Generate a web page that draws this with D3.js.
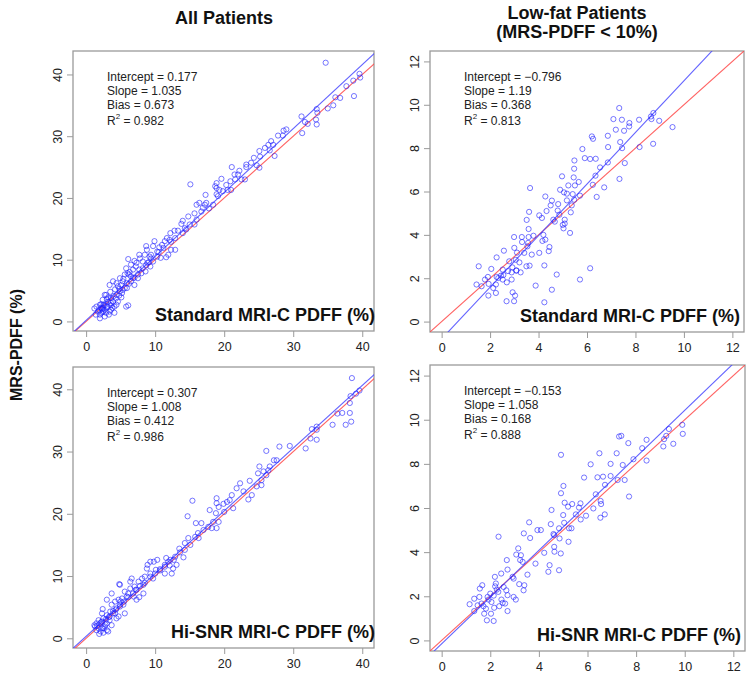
<!DOCTYPE html>
<html><head><meta charset="utf-8">
<script src="https://cdn.jsdelivr.net/npm/d3@7"></script>
<style>body{margin:0;background:#fff}svg{display:block}</style>
</head><body>
<svg id="c" width="750" height="677"></svg>
<script>
// ---------- DATA ----------
const columnTitles = [["All Patients"], ["Low-fat Patients", "(MRS-PDFF < 10%)"]];
const yAxisTitle = "MRS-PDFF (%)";
const xLabels = ["Standard MRI-C PDFF (%)", "Standard MRI-C PDFF (%)", "Hi-SNR MRI-C PDFF (%)", "Hi-SNR MRI-C PDFF (%)"];
const ticksAll = [0, 10, 20, 30, 40];
const ticksLow = [0, 2, 4, 6, 8, 10, 12];
const intercepts = [0.177, -0.796, 0.307, -0.153];
const slopes = [1.035, 1.19, 1.008, 1.058];
const interceptText = ["0.177", "\u22120.796", "0.307", "\u22120.153"];
const slopeText = ["1.035", "1.19", "1.008", "1.058"];
const biasText = ["0.673", "0.368", "0.412", "0.168"];
const r2Text = ["0.982", "0.813", "0.986", "0.888"];

// All patients, standard MRI-C (x = MRI-C, y = MRS)
const stdAll = [[34.7,41.9],[39.6,40.1],[39.7,39.5],[38.7,39.0],[37.7,38.1],[38.8,36.5],[36.8,36.2],[36.1,36.3],[35.8,35.0],[35.0,34.5],[33.4,34.4],[33.5,33.8],[33.3,32.7],[33.4,31.9],[32.1,32.0],[31.7,32.3],[31.2,33.2],[31.3,30.5],[29.0,31.1],[28.6,30.9],[27.8,30.1],[27.1,28.6],[26.8,29.2],[26.4,28.6],[27.3,26.8],[25.9,28.1],[25.1,27.6],[25.2,26.7],[25.1,24.9],[24.3,26.5],[23.2,25.4],[23.2,25.0],[23.0,23.0],[22.2,24.4],[22.0,23.8],[21.1,25.0],[21.6,23.0],[21.0,21.3],[20.9,22.7],[19.6,23.1],[18.9,22.4],[18.7,21.9],[18.9,20.6],[19.3,21.3],[20.3,22.1],[20.5,21.3],[17.3,20.5],[16.4,19.2],[17.4,19.2],[17.8,18.3],[16.7,17.8],[16.9,18.4],[15.7,17.5],[15.1,22.2],[15.7,15.7],[14.0,16.3],[14.3,15.1],[12.8,14.7],[13.3,14.7],[12.2,14.3],[11.7,13.5],[11.4,13.0],[12.1,13.2],[12.9,11.6],[12.9,13.5],[11.6,10.4],[10.8,10.3],[11.2,11.9],[11.0,12.4],[9.9,13.0],[9.7,12.2],[8.7,12.2],[8.8,11.6],[8.5,10.8],[9.2,10.5],[7.7,10.8],[7.8,10.2],[8.7,9.1],[9.4,10.2],[9.3,8.9],[7.3,9.5],[6.5,9.2],[6.1,10.1],[6.8,8.4],[7.5,7.6],[7.7,8.4],[8.6,8.1],[6.3,8.0],[5.8,8.6],[5.6,7.6],[6.8,7.0],[5.3,6.5],[4.9,7.0],[5.1,5.9],[4.6,5.7],[4.4,6.2],[3.9,6.5],[3.4,5.9],[5.6,5.4],[4.9,4.9],[4.4,4.3],[4.0,4.1],[3.5,4.8],[2.9,4.3],[2.4,3.5],[3.2,3.2],[3.6,3.0],[5.1,3.9],[4.6,3.2],[4.1,2.4],[5.8,2.4],[6.1,2.6],[2.0,2.7],[1.5,2.4],[2.2,2.2],[2.7,1.9],[1.7,1.6],[2.4,1.5],[2.9,1.4],[3.4,1.6],[3.8,2.2],[2.0,1.1],[2.7,0.8],[3.3,1.1],[4.1,1.4],[2.2,1.4],[1.2,2.1],[1.9,1.9],[7.0,9.8],[7.2,8.9],[6.0,7.8],[6.5,7.3],[5.4,6.9],[5.9,6.2],[4.2,5.2],[4.8,5.3],[3.6,3.8],[3.0,3.6],[2.6,2.6],[3.1,2.3],[2.3,2.0],[2.5,1.7],[3.6,2.6],[10.3,11.3],[10.6,12.0],[8.2,9.7],[13.8,15.8],[14.8,17.0],[16.0,18.9],[12.3,12.9],[9.1,9.6],
  [2.2,2.8],[2.4,2.2],[3.0,2.4],[3.4,2.7],[3.9,3.2],[4.3,3.7],[4.8,4.2],[5.2,4.6],[5.3,5.1],[5.9,5.4],[6.2,6.1],[6.5,6.5],[7.0,7.1],[7.5,7.0],[8.0,7.8],[8.2,8.6],[8.9,9.5],[9.7,9.7],[10.3,10.5],[10.5,11.2],[6.2,7.6],[7.0,5.9],[9.4,10.8],[11.9,10.8],[12.3,11.6],[14.0,14.3],[14.5,14.9],[15.0,15.7],[16.0,16.5],[17.2,18.9],[18.4,18.9],[19.1,20.3],[19.8,21.1],[18.9,21.6],[21.5,23.8],[22.5,23.0],[23.9,25.7],[24.7,25.3],[26.6,27.7],[28.5,30.1],[2.0,0.5],[1.4,1.1],[2.5,2.7],[3.6,1.9],[4.4,2.7],[3.2,3.9],[2.7,4.3]];
// Low-fat patients, standard MRI-C
const stdLow = [[7.33,9.85],[7.09,9.34],[7.44,9.31],[7.75,9.16],[7.74,9.0],[8.15,9.31],[8.64,9.46],[8.74,9.62],[8.66,9.34],[8.98,9.26],[9.53,8.97],[7.19,8.85],[7.53,8.80],[6.86,8.57],[6.2,8.54],[6.25,8.43],[7.37,8.28],[6.87,8.05],[7.45,8.0],[8.17,8.05],[8.73,8.2],[5.81,7.96],[5.91,7.54],[6.13,7.5],[6.36,7.51],[5.48,7.43],[5.47,7.05],[6.86,7.34],[6.54,7.11],[7.56,7.31],[4.97,6.70],[5.45,6.65],[6.35,6.73],[7.34,6.58],[5.66,6.44],[5.5,6.28],[5.23,6.28],[6.24,6.31],[6.71,6.19],[3.65,6.16],[4.89,6.08],[5.05,5.96],[5.17,5.90],[5.41,5.88],[5.71,5.81],[6.4,5.75],[4.28,5.77],[5.47,5.62],[5.17,5.59],[4.55,5.58],[4.81,5.42],[5.37,5.36],[4.5,5.36],[3.61,5.06],[4.03,4.90],[4.33,5.10],[4.79,5.12],[4.86,4.93],[5.33,5.04],[4.14,4.78],[4.61,4.70],[5.08,4.70],[3.51,4.69],[4.67,4.61],[5.0,4.46],[5.08,4.52],[3.59,4.27],[5.03,4.30],[5.30,4.09],[2.99,3.90],[3.31,3.90],[3.59,3.90],[3.32,3.67],[3.57,3.63],[3.79,3.96],[4.20,4.0],[4.28,3.78],[4.16,3.72],[3.54,3.47],[4.45,3.44],[4.42,3.25],[2.57,3.27],[3.0,3.40],[3.11,3.18],[3.41,3.17],[3.72,3.09],[4.03,3.17],[2.27,2.96],[2.79,2.78],[3.06,2.85],[3.21,2.73],[3.50,2.55],[3.63,2.58],[4.24,2.59],[1.53,2.55],[2.05,2.43],[2.52,2.40],[2.92,2.50],[2.74,2.33],[3.08,2.35],[4.75,2.17],[6.13,2.46],[1.91,2.06],[2.27,2.06],[2.55,2.15],[2.89,1.94],[5.71,1.94],[1.44,1.71],[1.65,1.63],[1.79,1.94],[1.94,1.74],[2.13,1.55],[2.24,1.71],[2.34,2.01],[2.45,2.12],[2.52,1.94],[2.69,1.81],[2.89,2.27],[3.09,2.36],[3.26,2.27],[1.93,1.20],[2.24,1.32],[2.93,1.35],[3.03,1.20],[2.68,0.94],[2.99,0.94],[3.88,1.66],[4.24,0.89],[4.55,1.47]];
// All patients, Hi-SNR MRI-C
const hiAll = [[38.5,41.8],[39.6,39.8],[39.1,39.3],[38.3,38.9],[38.2,37.8],[38.2,36.2],[38.4,34.8],[37.6,34.3],[37.1,36.2],[36.4,36.1],[35.7,34.3],[33.4,34.0],[33.4,33.5],[32.7,33.6],[32.5,32.1],[33.4,31.9],[31.8,30.5],[29.5,30.9],[28.0,30.8],[26.1,30.1],[27.2,28.6],[26.6,27.6],[26.4,27.0],[26.1,26.2],[25.7,26.8],[25.1,27.6],[25.4,25.4],[25.4,24.6],[24.7,24.4],[23.7,25.3],[24.0,23.0],[23.5,22.3],[22.3,24.9],[21.8,24.1],[21.1,23.0],[21.3,20.9],[20.4,21.9],[19.9,21.6],[20.0,20.3],[18.9,22.5],[19.2,21.1],[18.8,20.1],[17.9,20.6],[18.4,18.7],[17.7,17.9],[18.2,17.7],[18.9,17.7],[19.2,18.7],[15.4,22.1],[14.7,19.6],[15.9,18.5],[16.7,18.5],[17.0,17.4],[15.8,16.3],[14.8,16.1],[14.3,15.3],[14.1,13.0],[12.9,13.1],[12.7,12.6],[12.4,10.4],[13.1,11.8],[12.1,11.7],[11.9,12.3],[11.4,11.5],[10.3,12.6],[9.8,12.3],[9.3,12.3],[8.9,11.8],[10.1,11.0],[9.3,10.4],[8.8,11.2],[8.5,9.9],[8.1,9.6],[9.7,9.6],[7.6,9.1],[6.6,9.6],[6.4,9.1],[7.2,7.8],[6.4,8.0],[5.6,7.5],[4.9,8.6],[5.9,6.7],[6.9,6.7],[7.7,6.6],[5.2,6.4],[4.7,6.2],[4.2,5.9],[3.7,5.4],[4.4,4.8],[4.9,5.1],[5.4,5.4],[3.5,4.3],[4.2,4.0],[4.7,3.5],[3.0,3.7],[2.4,4.7],[2.5,3.2],[1.8,2.9],[2.0,2.4],[1.3,1.9],[1.5,1.3],[2.3,1.6],[2.7,1.9],[3.0,2.4],[3.4,2.9],[2.1,1.1],[1.9,0.7],[2.5,0.9],[3.0,1.3],[3.7,2.1],[1.2,2.1],[1.6,2.0],[2.2,2.6],[2.8,2.2],[3.3,3.4],[3.9,4.4],[5.0,5.9],[6.1,7.2],[7.0,8.3],[8.3,8.6],[10.7,10.9],[11.6,12.9],[13.5,14.4],[16.2,16.9],
  [1.5,2.4],[2.3,2.7],[2.9,3.1],[3.4,3.5],[3.9,4.0],[4.3,4.6],[4.9,5.4],[5.5,5.9],[6.1,6.6],[6.8,7.2],[7.3,7.8],[7.8,8.4],[8.5,8.9],[9.3,9.9],[10.0,10.4],[10.7,11.1],[11.4,11.8],[12.2,12.6],[13.6,13.8],[14.3,14.2],[15.1,15.0],[16.3,16.1],[4.8,8.7],[3.7,7.2],[3.0,6.2],[2.5,1.6],[3.2,1.1],[1.8,1.6],[2.3,4.0],[4.4,3.2],[5.6,4.0],[7.3,6.2],[8.3,7.2],[11.4,10.4],[12.6,11.2],[18.9,21.7],[20.8,22.2],[22.8,23.6],[24.9,26.5],[27.6,28.6]];
// Low-fat patients, Hi-SNR MRI-C
const hiLow = [[9.92,9.36],[9.90,9.77],[9.53,8.91],[9.35,9.58],[9.24,9.27],[9.15,9.12],[9.12,8.79],[8.43,9.09],[8.25,8.71],[8.43,8.15],[7.89,8.21],[7.68,8.94],[7.39,9.27],[7.30,9.24],[7.20,8.48],[7.45,7.95],[6.95,8.0],[6.49,8.48],[6.13,7.98],[6.41,7.39],[6.64,7.42],[6.95,7.45],[7.24,7.27],[7.53,7.27],[7.71,6.52],[5.86,7.38],[6.72,7.05],[6.34,6.62],[6.54,6.32],[6.56,6.18],[6.24,5.98],[6.53,5.56],[6.71,5.71],[5.94,5.65],[5.72,5.48],[5.65,6.02],[5.52,5.71],[5.71,6.21],[5.37,6.18],[5.20,6.06],[5.06,6.24],[5.01,7.0],[4.91,6.67],[4.91,8.41],[4.52,5.91],[5.0,5.68],[5.04,5.33],[5.24,5.08],[5.34,5.08],[4.83,5.08],[4.49,5.27],[4.60,4.82],[4.63,4.77],[4.85,4.62],[5.22,4.47],[4.63,4.24],[4.64,4.02],[4.90,3.94],[4.22,3.97],[4.44,3.41],[4.39,3.11],[4.83,3.18],[3.94,5.0],[4.08,5.0],[3.60,5.35],[3.64,4.64],[3.38,4.85],[2.34,4.70],[3.15,4.17],[3.07,3.89],[3.26,3.86],[3.23,3.64],[3.33,3.56],[3.86,3.48],[3.53,2.98],[2.68,3.64],[2.71,3.21],[2.45,3.03],[2.92,2.88],[2.96,2.80],[3.19,2.55],[3.40,2.50],[3.37,2.27],[3.05,1.85],[2.96,1.97],[2.71,2.05],[2.66,2.27],[2.27,2.30],[2.33,2.20],[2.19,2.88],[2.23,2.58],[1.89,1.97],[1.93,1.85],[2.05,1.74],[2.0,2.12],[2.14,2.03],[2.46,1.85],[2.51,1.70],[2.37,1.55],[2.61,1.67],[2.71,1.33],[2.16,1.48],[2.03,1.21],[2.14,0.88],[1.86,0.91],[1.75,1.21],[1.82,1.44],[1.64,1.67],[1.72,1.55],[1.48,1.59],[1.34,1.33],[1.15,1.64],[1.34,1.89],[1.55,1.97],[1.57,2.35],[1.67,2.50],[2.20,2.45],[2.55,2.42]];

const panelData = [stdAll, stdLow, hiAll, hiLow];

// ---------- LAYOUT ----------
const boxes = [
  {x0:73, x1:374, y0:51, y1:331, xd:[-1.9,41.7], yd:[-1.55,43.8], ticks:ticksAll, labEnd:1},
  {x0:430, x1:744, y0:51, y1:332, xd:[-0.48,12.48], yd:[-0.48,12.48], ticks:ticksLow, labEnd:-4},
  {x0:73, x1:374, y0:367, y1:648, xd:[-1.9,41.7], yd:[-1.56,43.58], ticks:ticksAll, labEnd:1},
  {x0:430, x1:745, y0:365, y1:651, xd:[-0.48,12.48], yd:[-0.48,12.48], ticks:ticksLow, labEnd:-4}
];

const svg = d3.select("#c");
const FONT = "'Liberation Sans', Arial, sans-serif";
const ptColor = "rgba(30,30,255,0.6)";
const blueLine = "rgba(70,70,255,0.85)";
const redLine = "rgba(255,70,70,0.85)";
const gridGrey = "#9a9a9a";

// column titles
svg.append("text").attr("x", 224).attr("y", 24).attr("text-anchor","middle")
  .attr("font-family",FONT).attr("font-weight","bold").attr("font-size",18).attr("fill","#111")
  .text(columnTitles[0][0]);
columnTitles[1].forEach((t,i)=>{
  svg.append("text").attr("x", 577).attr("y", 18.5 + i*19).attr("text-anchor","middle")
    .attr("font-family",FONT).attr("font-weight","bold").attr("font-size",18).attr("fill","#111")
    .text(t);
});
// y-axis title
svg.append("text").attr("transform","translate(22,345) rotate(-90)").attr("text-anchor","middle")
  .attr("font-family",FONT).attr("font-weight","bold").attr("font-size",16).attr("fill","#111")
  .text(yAxisTitle);

boxes.forEach((b, i) => {
  const x = d3.scaleLinear().domain(b.xd).range([b.x0, b.x1]);
  const y = d3.scaleLinear().domain(b.yd).range([b.y1, b.y0]);
  const g = svg.append("g");
  const clipId = "clip" + i;
  svg.append("clipPath").attr("id", clipId).append("rect")
    .attr("x", b.x0).attr("y", b.y0).attr("width", b.x1 - b.x0).attr("height", b.y1 - b.y0);

  // axes
  const xa = g.append("g").attr("transform", `translate(0,${b.y1})`)
    .call(d3.axisBottom(x).tickValues(b.ticks).tickSize(6).tickSizeOuter(0).tickPadding(3));
  const ya = g.append("g").attr("transform", `translate(${b.x0},0)`)
    .call(d3.axisLeft(y).tickValues(b.ticks).tickSize(6).tickSizeOuter(0).tickPadding(3));
  [xa, ya].forEach(a => {
    a.select(".domain").remove();
    a.selectAll(".tick line").attr("stroke", gridGrey);
    a.selectAll(".tick text").attr("font-family", FONT).attr("font-size", 12.5).attr("fill", "#222");
  });
  ya.selectAll(".tick text").attr("text-anchor","middle").attr("x",0).attr("dy",0)
    .attr("transform", "translate(-15,0) rotate(-90)").attr("dominant-baseline","central");
  xa.selectAll(".tick text").attr("dy","0.9em");

  // box
  g.append("rect").attr("x", b.x0).attr("y", b.y0).attr("width", b.x1 - b.x0).attr("height", b.y1 - b.y0)
    .attr("fill","none").attr("stroke", gridGrey).attr("stroke-width", 1.3);

  const inner = g.append("g").attr("clip-path", `url(#${clipId})`);
  // identity line (red)
  inner.append("line").attr("x1", x(b.xd[0] - 5)).attr("y1", y(b.xd[0] - 5))
    .attr("x2", x(b.xd[1] + 5)).attr("y2", y(b.xd[1] + 5))
    .attr("stroke", redLine).attr("stroke-width", 1.1);
  // regression line (blue)
  const xs = [b.xd[0] - 5, b.xd[1] + 5];
  inner.append("line").attr("x1", x(xs[0])).attr("y1", y(intercepts[i] + slopes[i]*xs[0]))
    .attr("x2", x(xs[1])).attr("y2", y(intercepts[i] + slopes[i]*xs[1]))
    .attr("stroke", blueLine).attr("stroke-width", 1.1);
  // points
  inner.selectAll("circle.p").data(panelData[i]).join("circle").attr("class","p")
    .attr("cx", d => x(d[0])).attr("cy", d => y(d[1])).attr("r", 2.6)
    .attr("fill","none").attr("stroke", ptColor).attr("stroke-width", 1);

  // stats text
  const tx = b.x0 + 34, ty = b.y0;
  const st = g.append("g").attr("font-family", FONT).attr("font-size", 12).attr("fill", "#222");
  st.append("text").attr("x", tx).attr("y", ty + 30).text("Intercept = " + interceptText[i]);
  st.append("text").attr("x", tx).attr("y", ty + 44).text("Slope = " + slopeText[i]);
  st.append("text").attr("x", tx).attr("y", ty + 58).text("Bias = " + biasText[i]);
  const r = st.append("text").attr("x", tx).attr("y", ty + 74);
  r.append("tspan").text("R");
  r.append("tspan").attr("font-size", 8).attr("dy", -6).text("2");
  r.append("tspan").attr("dy", 6).text(" = " + r2Text[i]);

  // x label inside panel
  g.append("text").attr("x", b.x1 + b.labEnd).attr("y", b.y1 - 10).attr("text-anchor","end")
    .attr("font-family", FONT).attr("font-weight","bold").attr("font-size", 18).attr("fill","#111")
    .text(xLabels[i]);
});
</script>
</body></html>
